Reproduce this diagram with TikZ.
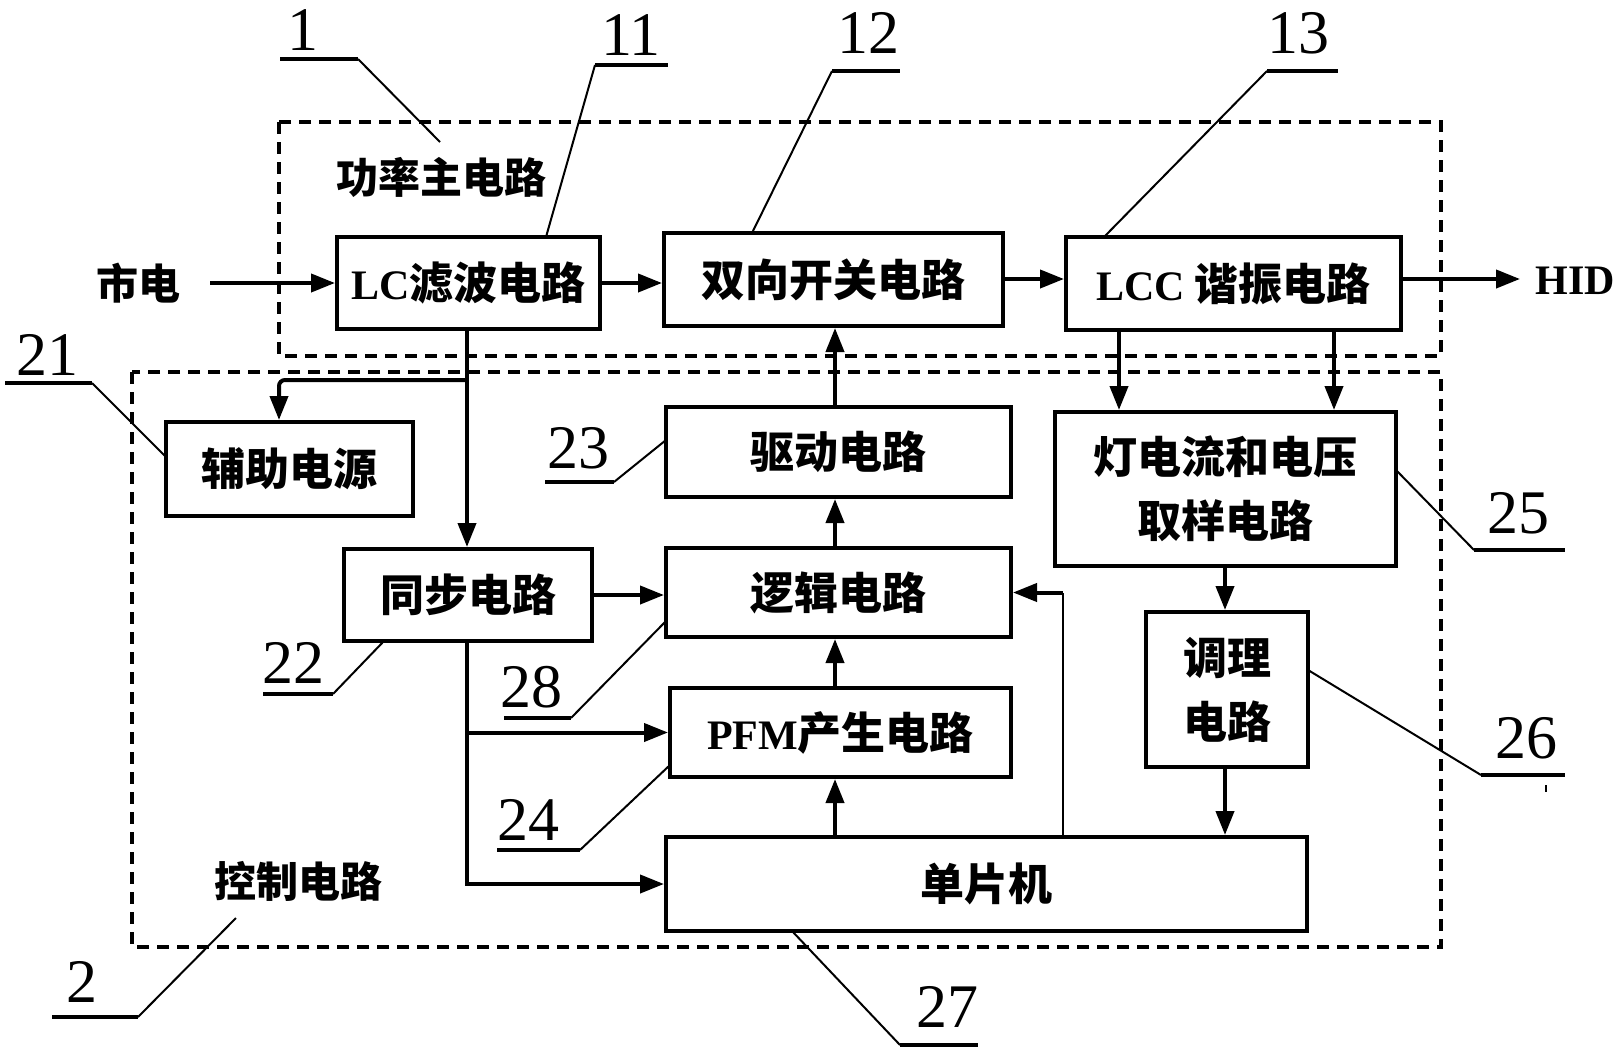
\documentclass[tikz,border=0pt]{standalone}
\usepackage{fontspec}
\setmainfont{Liberation Serif}
\newfontfamily\cjk{Noto Sans CJK SC}
\usetikzlibrary{arrows.meta}
\newcommand\lat[1]{{\rmfamily\bfseries\fontsize{21}{24}\selectfont #1}}
\newcommand\bx[6]{\node[box, minimum width={(#4-#2)*0.5pt}, minimum height={(#5-#3)*0.5pt}] (#1) at ({(#2+#4)/2},{(#3+#5)/2}) {#6};}
\newcommand\ann[9]{\node[num] at (#2,#3) {#1}; \draw[ul] (#4,#6) -- (#5,#6); \draw[lead] (#7,#6) -- (#8,#9);}
\begin{document}
\begin{tikzpicture}[x=0.5pt,y=-0.5pt,
  box/.style={draw, line width=2pt, inner sep=0pt, align=center, font=\cjk\bfseries\fontsize{22}{32}\selectfont},
  arr/.style={line width=2pt, -{Triangle[length=12pt,width=9pt]}},
  lead/.style={line width=1pt},
  ul/.style={line width=2pt},
  num/.style={anchor=base, inner sep=0pt, font=\fontsize{31}{31}\selectfont},
  ttl/.style={inner sep=0pt, font=\cjk\bfseries\fontsize{21}{24}\selectfont},
  dashbox/.style={line width=1.6pt, dash pattern=on 6pt off 4pt}]
\useasboundingbox (0,0) rectangle (1623,1050);
% dashed regions
\draw[dashbox] (279,122) rectangle (1441,356);
\draw[dashbox] (132,372) rectangle (1441,947);
% boxes
\bx{lc}{337}{237}{600}{329}{\lat{LC}滤波电路}
\bx{sw}{664}{233}{1003}{326}{双向开关电路}
\bx{lcc}{1066}{237}{1401}{330}{\lat{LCC} 谐振电路}
\bx{aux}{166}{422}{413}{516}{辅助电源}
\bx{drv}{666}{407}{1011}{497}{驱动电路}
\bx{smp}{1055}{412}{1396}{566}{灯电流和电压\\取样电路}
\bx{syn}{344}{549}{592}{641}{同步电路}
\bx{log}{666}{548}{1011}{637}{逻辑电路}
\bx{cond}{1146}{612}{1308}{767}{调理\\电路}
\bx{pfm}{670}{688}{1011}{777}{\lat{PFM}产生电路}
\bx{mcu}{666}{837}{1307}{931}{单片机}
% texts
\node[ttl] (mains) at (138,283) {市电};
\node[inner sep=0pt, font=\bfseries\fontsize{21}{24}\selectfont] (hid) at (1575,281) {HID};
\node[ttl] (t1) at (441,177) {功率主电路};
\node[ttl] (t2) at (298,881) {控制电路};
% coordinates
\coordinate (r1) at (0,283);
\coordinate (r2) at (0,279);
\coordinate (ms) at (210,283);
\coordinate (ht) at (1520,279);
\coordinate (vx) at (467,0);
\coordinate (ax) at (279,0);
\coordinate (b1) at (0,380);
\coordinate (cx) at (835,0);
\coordinate (fx) at (1063,0);
\coordinate (sx1) at (1119,0);
\coordinate (sx2) at (1334,0);
\coordinate (kx) at (1225,0);
% main row
\draw[arr] (ms) -- (lc.west |- r1);
\draw[arr] (lc.east |- r1) -- (sw.west |- r1);
\draw[arr] (sw.east |- r2) -- (lcc.west |- r2);
\draw[arr] (lcc.east |- r2) -- (ht);
% LC down
\draw[arr] (lc.south -| vx) -- (syn.north -| vx);
\draw[arr, rounded corners=3pt] (vx |- b1) -| (aux.north -| ax);
% sync
\draw[arr] (syn.east) -- (log.west |- syn.east);
\draw[arr] (syn.south -| vx) |- (mcu.west);
\draw[arr] (vx |- pfm.west) -- (pfm.west);
% vertical chain
\draw[arr] (mcu.north -| cx) -- (pfm.south -| cx);
\draw[arr] (pfm.north -| cx) -- (log.south -| cx);
\draw[arr] (log.north -| cx) -- (drv.south -| cx);
\draw[arr] (drv.north -| cx) -- (sw.south -| cx);
% mcu to logic
\draw[line width=1.2pt] (mcu.north -| fx) -- (fx |- log.east);
\draw[arr] (fx |- log.east) -- (log.east);
% sampling
\draw[arr] (lcc.south -| sx1) -- (smp.north -| sx1);
\draw[arr] (lcc.south -| sx2) -- (smp.north -| sx2);
\draw[arr] (smp.south -| kx) -- (cond.north -| kx);
\draw[arr] (cond.south -| kx) -- (mcu.north -| kx);
% annotations
\ann{1}{303}{50}{280}{358}{59}{358}{440}{142}
\ann{11}{631}{55}{595}{668}{65}{595}{546}{237}
\ann{12}{868}{53}{832}{900}{71}{832}{752}{233}
\ann{13}{1298}{53}{1267}{1338}{71}{1267}{1104}{237}
\ann{21}{48}{375}{5}{92}{383}{92}{166}{457}
\ann{22}{293}{683}{263}{333}{694}{333}{384}{641}
\ann{23}{578}{468}{545}{614}{482}{614}{666}{440}
\ann{28}{531}{707}{504}{571}{718}{571}{667}{620}
\ann{24}{528}{840}{497}{580}{850}{580}{670}{765}
\ann{25}{1518}{533}{1474}{1565}{550}{1474}{1396}{470}
\ann{26}{1526}{758}{1481}{1565}{775}{1481}{1308}{670}
\ann{27}{947}{1027}{900}{978}{1045}{900}{792}{931}
\ann{2}{82}{1002}{52}{138}{1017}{138}{236}{918}
\draw[lead] (1546,785) -- (1546,792);
\end{tikzpicture}
\end{document}
